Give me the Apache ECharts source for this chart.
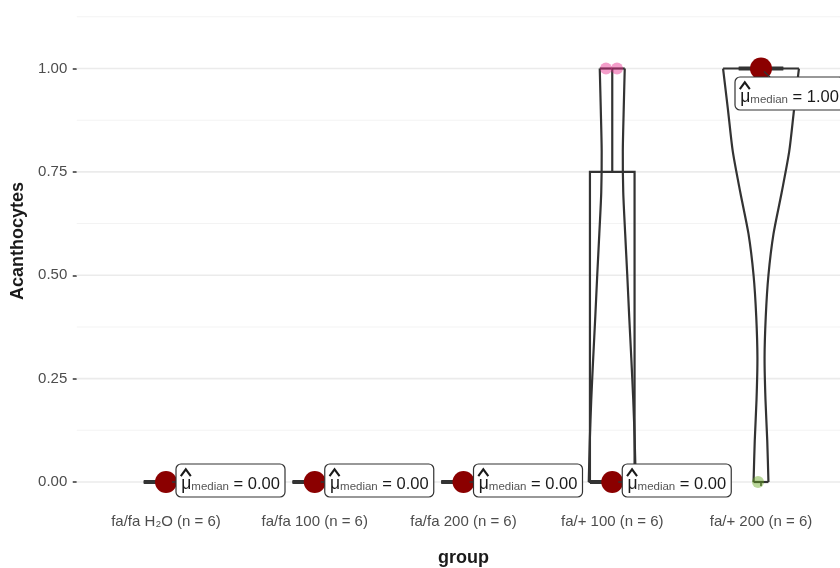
<!DOCTYPE html>
<html><head><meta charset="utf-8">
<script src="https://cdn.jsdelivr.net/npm/echarts@6/dist/echarts.min.js"></script>
<style>html,body{margin:0;padding:0;background:#fff}#c{width:840px;height:568px}</style>
</head><body><div id="c"></div>
<script>
// ---- data ----
const categories = ['fa/fa H₂O', 'fa/fa 100', 'fa/fa 200', 'fa/+ 100', 'fa/+ 200'];
const groupSizes = [6, 6, 6, 6, 6];
const valuesFaFaH2O   = [0, 0, 0, 0, 0, 0];
const valuesFaFa100   = [0, 0, 0, 0, 0, 0];
const valuesFaFa200   = [0, 0, 0, 0, 0, 0];
const valuesFaPlus100 = [0, 0, 0, 0, 1, 1];
const valuesFaPlus200 = [0, 1, 1, 1, 1, 1];
// horizontal jitter of the raw points (category units)
const jitterFaFaH2O   = [-0.02, 0.01, 0.025, -0.01, 0.0, 0.02];
const jitterFaFa100   = [0.015, -0.025, 0.0, 0.02, -0.01, 0.01];
const jitterFaFa200   = [-0.015, 0.02, 0.005, -0.025, 0.01, 0.0];
const jitterFaPlus100 = [0.01, -0.02, 0.02, -0.005, -0.042, 0.032];
const jitterFaPlus200 = [-0.02, 0.01, -0.015, 0.02, 0.0, -0.005];
// boxplot stats: min, q1, median, q3, max
const boxFaFaH2O   = [0, 0, 0, 0, 0];
const boxFaFa100   = [0, 0, 0, 0, 0];
const boxFaFa200   = [0, 0, 0, 0, 0];
const boxFaPlus100 = [0, 0, 0, 0.75, 1];
const boxFaPlus200 = [1, 1, 1, 1, 1];
const medians = [0, 0, 0, 0, 1];
// violin outlines: half width (category units) at each level
const violinLevels    = [0, 0.1, 0.2, 0.3, 0.4, 0.5, 0.6, 0.7, 0.8, 0.9, 1.0];
const violinFaPlus100 = [0.158, 0.151, 0.141, 0.128, 0.114, 0.101, 0.087, 0.074, 0.071, 0.077, 0.084];
const violinFaPlus200 = [0.050, 0.042, 0.030, 0.024, 0.032, 0.050, 0.084, 0.139, 0.190, 0.222, 0.255];
const yTicks = [0, 0.25, 0.5, 0.75, 1];
const yMinorTicks = [0.125, 0.375, 0.625, 0.875, 1.125];
const xTicks = [1, 2, 3, 4, 5];

// ---- styling ----
const F = 'Liberation Sans, Arial, Helvetica, sans-serif';
const pointColors = ['#1B9E77', '#D95F02', '#7570B3', '#E7298A', '#66A61E'];
const ink = '#333333';

const allValues = [valuesFaFaH2O, valuesFaFa100, valuesFaFa200, valuesFaPlus100, valuesFaPlus200];
const allJitter = [jitterFaFaH2O, jitterFaFa100, jitterFaFa200, jitterFaPlus100, jitterFaPlus200];
const allBoxes = [boxFaFaH2O, boxFaFa100, boxFaFa200, boxFaPlus100, boxFaPlus200];
const violins = [{x: 4, hw: violinFaPlus100}, {x: 5, hw: violinFaPlus200}];

const pointData = [];
allValues.forEach((vals, g) => vals.forEach((v, i) => pointData.push([g + 1 + allJitter[g][i], v, g])));

function xLabel(v) {
  const i = Math.round(v) - 1;
  if (i < 0 || i >= categories.length) return '';
  return categories[i] + ' (n = ' + groupSizes[i] + ')';
}

const chart = echarts.init(document.getElementById('c'), null, {renderer: 'canvas'});
chart.setOption({
  animation: false,
  backgroundColor: '#ffffff',
  grid: {left: 76.75, right: -10.25, top: -17, bottom: 69, containLabel: false, outerBoundsMode: 'none'},
  xAxis: {
    type: 'value', min: 0.4, max: 5.6,
    axisLine: {show: false}, splitLine: {show: false},
    axisTick: {show: true, customValues: xTicks, length: 4, lineStyle: {color: ink, width: 1.5}},
    axisLabel: {
      customValues: xTicks, margin: 15, fontSize: 15, lineHeight: 15, color: '#4D4D4D', fontFamily: F,
      formatter: xLabel
    },
    name: 'group', nameLocation: 'middle', nameGap: 50,
    nameTextStyle: {fontSize: 18, fontWeight: 'bold', color: '#1a1a1a', fontFamily: F}
  },
  yAxis: {
    type: 'value', min: -0.0411, max: 1.2068,
    axisLine: {show: false}, splitLine: {show: false},
    axisTick: {show: true, customValues: yTicks, length: 4, lineStyle: {color: ink, width: 1.5}},
    axisLabel: {customValues: yTicks, margin: 9.5, fontSize: 15, color: '#4D4D4D', fontFamily: F,
      formatter: v => v.toFixed(2)},
    name: 'Acanthocytes', nameLocation: 'middle', nameGap: 44, nameRotate: 90,
    nameTextStyle: {fontSize: 18, fontWeight: 'bold', color: '#1a1a1a', fontFamily: F}
  },
  series: [
    { // grid lines
      type: 'custom', z: 1, silent: true, clip: false,
      data: yTicks.map(v => [1, v, 1]).concat(yMinorTicks.map(v => [1, v, 0])),
      encode: {x: 0, y: 1},
      renderItem(params, api) {
        const cs = params.coordSys;
        const y = api.coord([api.value(0), api.value(1)])[1];
        const major = api.value(2) === 1;
        return {type: 'line', shape: {x1: cs.x, y1: y, x2: cs.x + cs.width, y2: y},
          style: {stroke: major ? '#EBEBEB' : '#F3F3F3', lineWidth: major ? 1.6 : 1.1}};
      }
    },
    { // violins
      type: 'custom', z: 2, silent: true,
      data: violins.map((v, i) => [v.x, 0.5, i]),
      encode: {x: 0, y: 1},
      renderItem(params, api) {
        const vi = violins[api.value(2)];
        const x = api.value(0);
        const left = violinLevels.map((lv, k) => api.coord([x - vi.hw[k], lv]));
        const right = violinLevels.map((lv, k) => api.coord([x + vi.hw[k], lv]));
        const st = {stroke: ink, lineWidth: 2.2, fill: null};
        const n = violinLevels.length - 1;
        return {type: 'group', children: [
          {type: 'polyline', shape: {points: left, smooth: 0.25}, style: st},
          {type: 'polyline', shape: {points: right, smooth: 0.25}, style: st},
          {type: 'line', shape: {x1: left[0][0], y1: left[0][1], x2: right[0][0], y2: right[0][1]}, style: st},
          {type: 'line', shape: {x1: left[n][0], y1: left[n][1], x2: right[n][0], y2: right[n][1]}, style: st}
        ]};
      }
    },
    { // boxplots
      type: 'custom', z: 3, silent: true,
      data: allBoxes.map((b, i) => [i + 1].concat(b)),
      encode: {x: 0, y: [1, 2, 3, 4, 5]},
      renderItem(params, api) {
        const x = api.value(0);
        const c = v => api.coord([x, v]);
        const hw = api.size([0.15, 0])[0];
        const cx = c(api.value(3))[0];
        const ymn = c(api.value(1))[1], yq1 = c(api.value(2))[1], ymd = c(api.value(3))[1];
        const yq3 = c(api.value(4))[1], ymx = c(api.value(5))[1];
        const st = {stroke: ink, lineWidth: 2.2, fill: null};
        return {type: 'group', children: [
          {type: 'line', shape: {x1: cx, y1: yq3, x2: cx, y2: ymx}, style: st},
          {type: 'line', shape: {x1: cx, y1: yq1, x2: cx, y2: ymn}, style: st},
          {type: 'rect', shape: {x: cx - hw, y: yq3, width: 2 * hw, height: yq1 - yq3}, style: st},
          {type: 'line', shape: {x1: cx - hw, y1: ymd, x2: cx + hw, y2: ymd}, style: {stroke: ink, lineWidth: 4}}
        ]};
      }
    },
    { // raw points
      type: 'scatter', z: 4, silent: true,
      data: pointData, symbolSize: 12,
      itemStyle: {color: p => pointColors[p.data[2]], opacity: 0.45}
    },
    { // median points
      type: 'scatter', z: 5, silent: true,
      data: medians.map((m, i) => [i + 1, m]), symbolSize: 22,
      itemStyle: {color: '#8B0000', opacity: 1}
    },
    { // median labels
      type: 'custom', z: 6, silent: true, clip: false,
      data: medians.map((m, i) => [i + 1, m]),
      encode: {x: 0, y: 1},
      renderItem(params, api) {
        const cs = params.coordSys;
        const p = api.coord([api.value(0), api.value(1)]);
        const bw = 109, bh = 33;
        const below = p[0] + 10 + bw > cs.x + cs.width;
        const bx = below ? p[0] - 26 : p[0] + 10;
        const by = below ? p[1] + 8.5 : p[1] - 18;
        const seg = below ? {x1: p[0] + 3, y1: p[1] + 3, x2: p[0] + 9, y2: by}
                          : {x1: p[0] + 6, y1: p[1], x2: bx, y2: p[1]};
        return {type: 'group', children: [
          {type: 'line', shape: seg, style: {stroke: ink, lineWidth: 1.5}},
          {type: 'rect', shape: {x: bx, y: by, width: bw, height: bh, r: 5},
            style: {fill: '#ffffff', stroke: ink, lineWidth: 1.2}},
          {type: 'polyline', shape: {points: [[bx + 4.8, by + 12], [bx + 9.8, by + 5.3], [bx + 14.8, by + 12]]},
            style: {stroke: '#1a1a1a', lineWidth: 2.1, fill: null}},
          {type: 'text', style: {text: 'μ', x: bx + 5.2, y: by + 20.5, fontSize: 17.5, fontFamily: F,
            fill: '#1a1a1a', verticalAlign: 'middle'}},
          {type: 'text', style: {text: 'median', x: bx + 15.3, y: by + 22.5, fontSize: 11.5, fontFamily: F,
            fill: '#555555', verticalAlign: 'middle'}},
          {type: 'text', style: {text: '= ' + api.value(1).toFixed(2), x: bx + 57.5, y: by + 20.7,
            fontSize: 16.5, fontFamily: F, fill: '#1a1a1a', verticalAlign: 'middle'}}
        ]};
      }
    }
  ]
});
</script></body></html>
